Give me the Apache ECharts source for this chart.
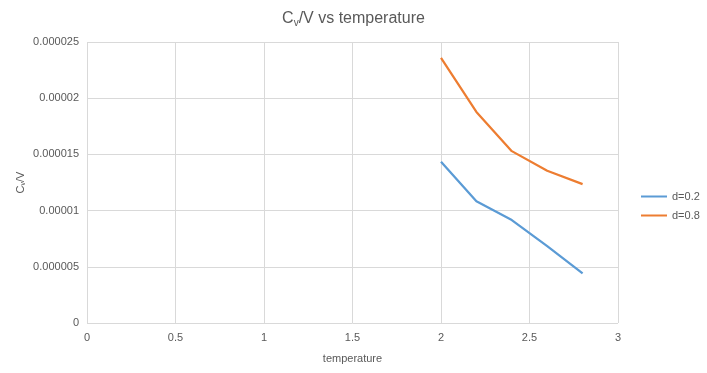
<!DOCTYPE html>
<html>
<head>
<meta charset="utf-8">
<script src="https://cdn.jsdelivr.net/npm/echarts@6/dist/echarts.min.js"></script>
<style>html,body{margin:0;padding:0;background:#fff}#c{width:707px;height:373px}</style>
</head>
<body>
<div id="c"></div>
<script>
var temperature = [2.0, 2.2, 2.4, 2.6, 2.8];
var d02 = [1.434e-5, 1.084e-5, 9.16e-6, 6.84e-6, 4.42e-6];
var d08 = [2.358e-5, 1.878e-5, 1.529e-5, 1.354e-5, 1.236e-5];
var xTicks = [0, 0.5, 1, 1.5, 2, 2.5, 3];
var yTicks = ['0', '0.000005', '0.00001', '0.000015', '0.00002', '0.000025'];

function pairs(xs, ys) { return xs.map(function (x, i) { return [x, ys[i]]; }); }

var font = 'Liberation Sans';
var grey = '#595959';
var chart = echarts.init(document.getElementById('c'));
chart.setOption({
  animation: false,
  title: {
    text: '{a|C}{s|v}{a|/V vs temperature}',
    left: 'center',
    top: 5,
    textStyle: {
      fontWeight: 'normal',
      rich: {
        a: { fontFamily: font, fontSize: 16, fontWeight: 'normal', color: grey },
        s: { fontFamily: font, fontSize: 10, fontWeight: 'normal', color: grey, verticalAlign: 'bottom', padding: [8, 0, 0, 0] }
      }
    }
  },
  legend: {
    orient: 'vertical',
    left: 636,
    top: 186,
    itemWidth: 26,
    itemHeight: 2,
    itemGap: 8,
    icon: 'rect',
    textStyle: { fontFamily: font, fontSize: 11, color: grey },
    data: ['d=0.2', 'd=0.8']
  },
  grid: { left: 87, right: 89, top: 42, bottom: 50, containLabel: false },
  xAxis: {
    type: 'value',
    min: 0, max: 3, interval: 0.5,
    name: 'temperature',
    nameLocation: 'middle',
    nameGap: 30,
    nameTextStyle: { fontFamily: font, fontSize: 11, color: grey },
    axisLine: { show: false },
    axisTick: { show: false },
    axisLabel: {
      fontFamily: font, fontSize: 11, color: grey, margin: 9,
      formatter: function (v) { var i = xTicks.indexOf(Math.round(v * 2) / 2); return i >= 0 ? String(xTicks[i]) : ''; }
    },
    splitLine: { show: true, lineStyle: { color: '#d9d9d9', width: 1 } }
  },
  yAxis: {
    type: 'value',
    min: 0, max: 0.000025, interval: 0.000005,
    name: '{a|C}{s|v}{a|/V}',
    nameLocation: 'middle',
    nameGap: 60,
    nameMoveOverlap: false,
    nameRotate: 90,
    nameTextStyle: {
      rich: {
        a: { fontFamily: font, fontSize: 11, color: grey },
        s: { fontFamily: font, fontSize: 7, color: grey, verticalAlign: 'bottom', padding: [5, 0, 0, 0] }
      }
    },
    axisLine: { show: false },
    axisTick: { show: false },
    axisLabel: {
      fontFamily: font, fontSize: 11, color: grey, margin: 8,
      formatter: function (v) { var i = Math.round(v / 0.000005); return yTicks[i] !== undefined ? yTicks[i] : ''; }
    },
    splitLine: { show: true, lineStyle: { color: '#d9d9d9', width: 1 } }
  },
  series: [
    {
      name: 'd=0.2', type: 'line', data: pairs(temperature, d02),
      showSymbol: false, symbol: 'none',
      lineStyle: { color: '#5B9BD5', width: 2.25 }, itemStyle: { color: '#5B9BD5' }
    },
    {
      name: 'd=0.8', type: 'line', data: pairs(temperature, d08),
      showSymbol: false, symbol: 'none',
      lineStyle: { color: '#ED7D31', width: 2.25 }, itemStyle: { color: '#ED7D31' }
    }
  ]
});
</script>
</body>
</html>
